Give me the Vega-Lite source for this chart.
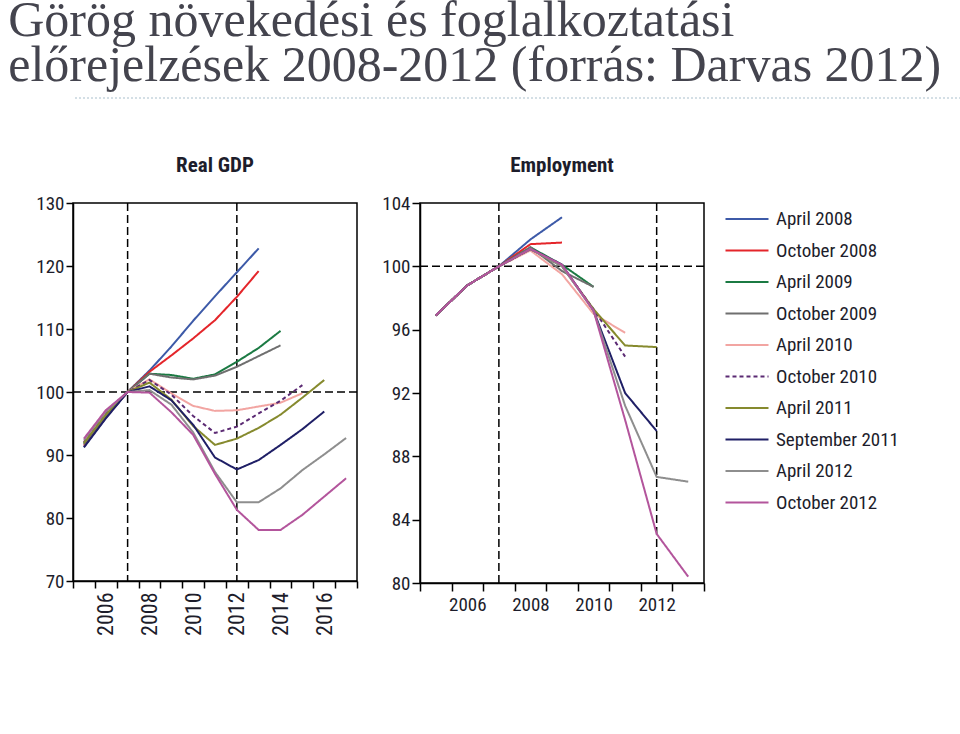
{
  "$schema": "https://vega.github.io/schema/vega-lite/v6.json",
  "padding": {"left": 0, "top": -4, "right": 0, "bottom": 0},
  "background": "white",
  "title": {
    "text": ["Görög növekedési és foglalkoztatási", "előrejelzések 2008-2012 (forrás: Darvas 2012)"],
    "anchor": "start",
    "dx": 8,
    "font": "Liberation Serif",
    "fontSize": 50,
    "lineHeight": 45,
    "fontWeight": "normal",
    "color": "#44444e",
    "offset": 6
  },
  "datasets": {
    "gdp": [
      {"s":"April 2008","year":2005,"v":91.3},{"s":"April 2008","year":2006,"v":95.9},{"s":"April 2008","year":2007,"v":100},{"s":"April 2008","year":2008,"v":103.4},{"s":"April 2008","year":2009,"v":107.2},{"s":"April 2008","year":2010,"v":111.3},{"s":"April 2008","year":2011,"v":115.2},{"s":"April 2008","year":2012,"v":119.0},{"s":"April 2008","year":2013,"v":122.8},
      {"s":"October 2008","year":2005,"v":91.5},{"s":"October 2008","year":2006,"v":96.0},{"s":"October 2008","year":2007,"v":100},{"s":"October 2008","year":2008,"v":103.2},{"s":"October 2008","year":2009,"v":105.8},{"s":"October 2008","year":2010,"v":108.5},{"s":"October 2008","year":2011,"v":111.4},{"s":"October 2008","year":2012,"v":115.1},{"s":"October 2008","year":2013,"v":119.2},
      {"s":"April 2009","year":2005,"v":91.8},{"s":"April 2009","year":2006,"v":96.3},{"s":"April 2009","year":2007,"v":100},{"s":"April 2009","year":2008,"v":102.9},{"s":"April 2009","year":2009,"v":102.7},{"s":"April 2009","year":2010,"v":102.1},{"s":"April 2009","year":2011,"v":102.8},{"s":"April 2009","year":2012,"v":104.8},{"s":"April 2009","year":2013,"v":107.0},{"s":"April 2009","year":2014,"v":109.7},
      {"s":"October 2009","year":2005,"v":91.7},{"s":"October 2009","year":2006,"v":96.2},{"s":"October 2009","year":2007,"v":100},{"s":"October 2009","year":2008,"v":102.9},{"s":"October 2009","year":2009,"v":102.3},{"s":"October 2009","year":2010,"v":102.0},{"s":"October 2009","year":2011,"v":102.6},{"s":"October 2009","year":2012,"v":104.0},{"s":"October 2009","year":2013,"v":105.7},{"s":"October 2009","year":2014,"v":107.4},
      {"s":"April 2010","year":2005,"v":92.1},{"s":"April 2010","year":2006,"v":96.6},{"s":"April 2010","year":2007,"v":100},{"s":"April 2010","year":2008,"v":102.0},{"s":"April 2010","year":2009,"v":99.8},{"s":"April 2010","year":2010,"v":97.8},{"s":"April 2010","year":2011,"v":97.0},{"s":"April 2010","year":2012,"v":97.1},{"s":"April 2010","year":2013,"v":97.7},{"s":"April 2010","year":2014,"v":98.3},{"s":"April 2010","year":2015,"v":99.8},
      {"s":"October 2010","year":2005,"v":92.0},{"s":"October 2010","year":2006,"v":96.5},{"s":"October 2010","year":2007,"v":100},{"s":"October 2010","year":2008,"v":101.9},{"s":"October 2010","year":2009,"v":99.6},{"s":"October 2010","year":2010,"v":96.2},{"s":"October 2010","year":2011,"v":93.5},{"s":"October 2010","year":2012,"v":94.5},{"s":"October 2010","year":2013,"v":96.6},{"s":"October 2010","year":2014,"v":98.6},{"s":"October 2010","year":2015,"v":101.1},
      {"s":"April 2011","year":2005,"v":91.9},{"s":"April 2011","year":2006,"v":96.4},{"s":"April 2011","year":2007,"v":100},{"s":"April 2011","year":2008,"v":101.5},{"s":"April 2011","year":2009,"v":98.8},{"s":"April 2011","year":2010,"v":94.6},{"s":"April 2011","year":2011,"v":91.6},{"s":"April 2011","year":2012,"v":92.6},{"s":"April 2011","year":2013,"v":94.3},{"s":"April 2011","year":2014,"v":96.4},{"s":"April 2011","year":2015,"v":99.1},{"s":"April 2011","year":2016,"v":101.9},
      {"s":"September 2011","year":2005,"v":91.2},{"s":"September 2011","year":2006,"v":95.8},{"s":"September 2011","year":2007,"v":100},{"s":"September 2011","year":2008,"v":100.9},{"s":"September 2011","year":2009,"v":98.7},{"s":"September 2011","year":2010,"v":94.8},{"s":"September 2011","year":2011,"v":89.6},{"s":"September 2011","year":2012,"v":87.7},{"s":"September 2011","year":2013,"v":89.2},{"s":"September 2011","year":2014,"v":91.6},{"s":"September 2011","year":2015,"v":94.1},{"s":"September 2011","year":2016,"v":96.9},
      {"s":"April 2012","year":2005,"v":92.4},{"s":"April 2012","year":2006,"v":96.9},{"s":"April 2012","year":2007,"v":100},{"s":"April 2012","year":2008,"v":100.3},{"s":"April 2012","year":2009,"v":98.0},{"s":"April 2012","year":2010,"v":93.6},{"s":"April 2012","year":2011,"v":87.3},{"s":"April 2012","year":2012,"v":82.5},{"s":"April 2012","year":2013,"v":82.5},{"s":"April 2012","year":2014,"v":84.7},{"s":"April 2012","year":2015,"v":87.6},{"s":"April 2012","year":2016,"v":90.1},{"s":"April 2012","year":2017,"v":92.7},
      {"s":"October 2012","year":2005,"v":92.6},{"s":"October 2012","year":2006,"v":97.1},{"s":"October 2012","year":2007,"v":100},{"s":"October 2012","year":2008,"v":99.9},{"s":"October 2012","year":2009,"v":96.8},{"s":"October 2012","year":2010,"v":93.2},{"s":"October 2012","year":2011,"v":87.0},{"s":"October 2012","year":2012,"v":81.3},{"s":"October 2012","year":2013,"v":78.1},{"s":"October 2012","year":2014,"v":78.1},{"s":"October 2012","year":2015,"v":80.5},{"s":"October 2012","year":2016,"v":83.4},{"s":"October 2012","year":2017,"v":86.3}
    ],
    "emp": [
      {"s":"April 2008","year":2005,"v":96.9},{"s":"April 2008","year":2006,"v":98.8},{"s":"April 2008","year":2007,"v":100},{"s":"April 2008","year":2008,"v":101.7},{"s":"April 2008","year":2009,"v":103.1},
      {"s":"October 2008","year":2005,"v":96.9},{"s":"October 2008","year":2006,"v":98.8},{"s":"October 2008","year":2007,"v":100},{"s":"October 2008","year":2008,"v":101.4},{"s":"October 2008","year":2009,"v":101.5},
      {"s":"April 2009","year":2005,"v":96.9},{"s":"April 2009","year":2006,"v":98.8},{"s":"April 2009","year":2007,"v":100},{"s":"April 2009","year":2008,"v":101.2},{"s":"April 2009","year":2009,"v":100.1},{"s":"April 2009","year":2010,"v":98.7},
      {"s":"October 2009","year":2005,"v":96.9},{"s":"October 2009","year":2006,"v":98.8},{"s":"October 2009","year":2007,"v":100},{"s":"October 2009","year":2008,"v":101.2},{"s":"October 2009","year":2009,"v":99.7},{"s":"October 2009","year":2010,"v":98.7},
      {"s":"April 2010","year":2005,"v":96.9},{"s":"April 2010","year":2006,"v":98.8},{"s":"April 2010","year":2007,"v":100},{"s":"April 2010","year":2008,"v":101.0},{"s":"April 2010","year":2009,"v":99.5},{"s":"April 2010","year":2010,"v":97.0},{"s":"April 2010","year":2011,"v":95.8},
      {"s":"October 2010","year":2005,"v":96.9},{"s":"October 2010","year":2006,"v":98.8},{"s":"October 2010","year":2007,"v":100},{"s":"October 2010","year":2008,"v":101.1},{"s":"October 2010","year":2009,"v":100.0},{"s":"October 2010","year":2010,"v":97.3},{"s":"October 2010","year":2011,"v":94.3},
      {"s":"April 2011","year":2005,"v":96.9},{"s":"April 2011","year":2006,"v":98.8},{"s":"April 2011","year":2007,"v":100},{"s":"April 2011","year":2008,"v":101.1},{"s":"April 2011","year":2009,"v":100.0},{"s":"April 2011","year":2010,"v":97.3},{"s":"April 2011","year":2011,"v":95.0},{"s":"April 2011","year":2012,"v":94.9},
      {"s":"September 2011","year":2005,"v":96.9},{"s":"September 2011","year":2006,"v":98.8},{"s":"September 2011","year":2007,"v":100},{"s":"September 2011","year":2008,"v":101.1},{"s":"September 2011","year":2009,"v":100.1},{"s":"September 2011","year":2010,"v":97.2},{"s":"September 2011","year":2011,"v":92.0},{"s":"September 2011","year":2012,"v":89.6},
      {"s":"April 2012","year":2005,"v":96.9},{"s":"April 2012","year":2006,"v":98.8},{"s":"April 2012","year":2007,"v":100},{"s":"April 2012","year":2008,"v":101.1},{"s":"April 2012","year":2009,"v":100.0},{"s":"April 2012","year":2010,"v":97.2},{"s":"April 2012","year":2011,"v":91.2},{"s":"April 2012","year":2012,"v":86.7},{"s":"April 2012","year":2013,"v":86.4},
      {"s":"October 2012","year":2005,"v":96.9},{"s":"October 2012","year":2006,"v":98.8},{"s":"October 2012","year":2007,"v":100},{"s":"October 2012","year":2008,"v":101.1},{"s":"October 2012","year":2009,"v":100.1},{"s":"October 2012","year":2010,"v":97.2},{"s":"October 2012","year":2011,"v":90.3},{"s":"October 2012","year":2012,"v":83.1},{"s":"October 2012","year":2013,"v":80.4}
    ]
  },
  "spacing": 55,
  "vconcat": [
    {
      "width": 888,
      "height": 1,
      "data": {"values": [{"d": 0}]},
      "mark": {"type": "rule", "color": "#a9bfcc", "strokeDash": [2, 2], "strokeWidth": 1},
      "encoding": {"y": {"field": "d", "type": "quantitative", "axis": null, "scale": {"domain": [0, 1]}}},
      "view": {"stroke": null}
    },
    {
      "hconcat": [
        {
          "width": 284,
          "height": 378,
          "title": {"text": "Real GDP"},
          "encoding": {
            "x": {
              "field": "year", "type": "quantitative",
              "scale": {"domain": [2004.5, 2017.5], "nice": false, "zero": false},
              "axis": {
                "title": null,
                "values": [2004.5, 2005.5, 2006.5, 2007.5, 2008.5, 2009.5, 2010.5, 2011.5, 2012.5, 2013.5, 2014.5, 2015.5, 2016.5, 2017.5],
                "labelExpr": "(datum.value - 2005.5) % 2 == 0 && datum.value < 2017 ? '' + (datum.value + 0.5) : ''",
                "labelOffset": 10.9,
                "labelAngle": 270,
                "labelAlign": "right",
                "labelBaseline": "middle",
                "labelFontSize": 22,
                "labelPadding": 4,
                "tickSize": 7
              }
            },
            "y": {
              "field": "v", "type": "quantitative",
              "scale": {"domain": [70, 130], "nice": false, "zero": false},
              "axis": {"title": null, "values": [70, 80, 90, 100, 110, 120, 130], "minExtent": 72, "tickSize": 7}
            }
          },
          "layer": [
            {
              "data": {"values": [{"year": 2007}, {"year": 2012}]},
              "mark": {"type": "rule", "color": "black", "strokeWidth": 1.5, "strokeDash": [8, 4]},
              "encoding": {"y": null}
            },
            {
              "data": {"values": [{"v": 100}]},
              "mark": {"type": "rule", "color": "black", "strokeWidth": 1.5, "strokeDash": [8, 4]},
              "encoding": {"x": null}
            },
            {
              "data": {"name": "gdp"},
              "mark": {"type": "line"},
              "encoding": {
                "color": {
                  "field": "s", "type": "nominal",
                  "scale": {
                    "domain": ["April 2008", "October 2008", "April 2009", "October 2009", "April 2010", "October 2010", "April 2011", "September 2011", "April 2012", "October 2012"],
                    "range": ["#3d5aa8", "#e4252a", "#1b7a43", "#6f6f6f", "#f2a5a2", "#5b2a73", "#868a2e", "#1f1f66", "#8e8e8e", "#b3559c"]
                  },
                  "legend": null
                },
                "strokeDash": {
                  "field": "s", "type": "nominal",
                  "scale": {
                    "domain": ["April 2008", "October 2008", "April 2009", "October 2009", "April 2010", "October 2010", "April 2011", "September 2011", "April 2012", "October 2012"],
                    "range": [[1, 0], [1, 0], [1, 0], [1, 0], [1, 0], [4, 3], [1, 0], [1, 0], [1, 0], [1, 0]]
                  },
                  "legend": null
                },
                "strokeWidth": {
                  "field": "s", "type": "nominal",
                  "scale": {
                    "domain": ["April 2008", "October 2008", "April 2009", "October 2009", "April 2010", "October 2010", "April 2011", "September 2011", "April 2012", "October 2012"],
                    "range": [2, 2, 2, 2, 2, 2, 2, 2, 2, 2.6]
                  },
                  "legend": null
                }
              }
            }
          ]
        },
        {
          "width": 284,
          "height": 380,
          "title": {"text": "Employment"},
          "encoding": {
            "x": {
              "field": "year", "type": "quantitative",
              "scale": {"domain": [2004.5, 2013.5], "nice": false, "zero": false},
              "axis": {
                "title": null,
                "values": [2004.5, 2005.5, 2006.5, 2007.5, 2008.5, 2009.5, 2010.5, 2011.5, 2012.5, 2013.5],
                "labelExpr": "(datum.value - 2005.5) % 2 == 0 && datum.value < 2013 ? '' + (datum.value + 0.5) : ''",
                "labelOffset": 15.8,
                "labelAngle": 0,
                "labelFontSize": 19,
                "labelPadding": 4,
                "tickSize": 8
              }
            },
            "y": {
              "field": "v", "type": "quantitative",
              "scale": {"domain": [80, 104], "nice": false, "zero": false},
              "axis": {"title": null, "values": [80, 84, 88, 92, 96, 100, 104], "tickSize": 8}
            }
          },
          "layer": [
            {
              "data": {"values": [{"year": 2007}, {"year": 2012}]},
              "mark": {"type": "rule", "color": "black", "strokeWidth": 1.5, "strokeDash": [8, 4]},
              "encoding": {"y": null}
            },
            {
              "data": {"values": [{"v": 100}]},
              "mark": {"type": "rule", "color": "black", "strokeWidth": 1.5, "strokeDash": [8, 4]},
              "encoding": {"x": null}
            },
            {
              "data": {"name": "emp"},
              "mark": {"type": "line"},
              "encoding": {
                "color": {
                  "field": "s", "type": "nominal",
                  "scale": {
                    "domain": ["April 2008", "October 2008", "April 2009", "October 2009", "April 2010", "October 2010", "April 2011", "September 2011", "April 2012", "October 2012"],
                    "range": ["#3d5aa8", "#e4252a", "#1b7a43", "#6f6f6f", "#f2a5a2", "#5b2a73", "#868a2e", "#1f1f66", "#8e8e8e", "#b3559c"]
                  },
                  "legend": {"title": null, "orient": "right", "offset": 14, "padding": 6, "symbolType": "stroke", "symbolSize": 1850, "symbolStrokeWidth": 3, "clipHeight": 20, "labelOffset": 6, "rowPadding": 11.5, "labelFontSize": 19}
                },
                "strokeDash": {
                  "field": "s", "type": "nominal",
                  "scale": {
                    "domain": ["April 2008", "October 2008", "April 2009", "October 2009", "April 2010", "October 2010", "April 2011", "September 2011", "April 2012", "October 2012"],
                    "range": [[1, 0], [1, 0], [1, 0], [1, 0], [1, 0], [4, 3], [1, 0], [1, 0], [1, 0], [1, 0]]
                  },
                  "legend": {"title": null, "orient": "right", "offset": 14, "padding": 6, "symbolType": "stroke", "symbolSize": 1850, "symbolStrokeWidth": 3, "clipHeight": 20, "labelOffset": 6, "rowPadding": 11.5, "labelFontSize": 19}
                },
                "strokeWidth": {
                  "field": "s", "type": "nominal",
                  "scale": {
                    "domain": ["April 2008", "October 2008", "April 2009", "October 2009", "April 2010", "October 2010", "April 2011", "September 2011", "April 2012", "October 2012"],
                    "range": [2, 2, 2, 2, 2, 2, 2, 2, 2, 2.8]
                  },
                  "legend": null
                }
              }
            }
          ]
        }
      ],
      "spacing": 1,
      "resolve": {"legend": {"color": "independent", "strokeDash": "independent", "strokeWidth": "independent"}}
    }
  ],
  "config": {
    "font": "Roboto Condensed, DejaVu Sans Condensed, sans-serif",
    "view": {"stroke": "black", "strokeWidth": 1.5},
    "axis": {
      "grid": false,
      "domainColor": "black",
      "domainWidth": 1.5,
      "tickColor": "black",
      "tickWidth": 1.5,
      "labelFont": "Roboto Condensed, DejaVu Sans Condensed, sans-serif",
      "labelFontSize": 19,
      "labelColor": "#1d1d2b",
      "labelPadding": 2,
      "labelOverlap": false,
      "labelBound": false,
      "labelFlush": false
    },
    "legend": {
      "labelFont": "Roboto Condensed, DejaVu Sans Condensed, sans-serif",
      "labelColor": "#1d1d2b"
    },
    "title": {
      "font": "Roboto Condensed, DejaVu Sans Condensed, sans-serif",
      "fontSize": 21,
      "fontWeight": "bold",
      "color": "#1d1d2b",
      "offset": 18
    }
  }
}
